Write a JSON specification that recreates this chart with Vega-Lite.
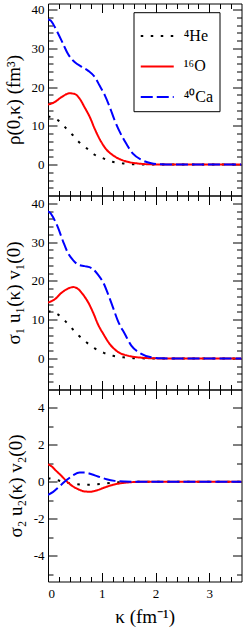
{
  "$schema": "https://vega.github.io/schema/vega-lite/v6.json",
  "padding": {"left": 4, "top": 2.5, "right": 2, "bottom": 0},
  "background": "white",
  "spacing": 0,
  "bounds": "flush",
  "config": {
    "font": "Liberation Serif",
    "view": {"stroke": null},
    "axis": {"labelFont": "Liberation Serif", "titleFont": "Liberation Serif", "labelFontSize": 13, "titleFontSize": 19, "titleFontWeight": "normal", "labelColor": "black", "titleColor": "black", "tickColor": "black", "domainColor": "black", "grid": false, "tickWidth": 1, "domainWidth": 1, "labelOverlap": false},
    "legend": {"labelFont": "Liberation Serif"}
  },
  "resolve": {"scale": {"color": "independent", "strokeDash": "independent"}, "legend": {"color": "independent", "strokeDash": "independent"}},
  "datasets": {
    "p1": [
      {"k": 0, "v": 12.4, "n": "⁴He"}, {"k": 0.1, "v": 12.1, "n": "⁴He"}, {"k": 0.19, "v": 11.4, "n": "⁴He"}, {"k": 0.32, "v": 9.6, "n": "⁴He"}, {"k": 0.45, "v": 7.75, "n": "⁴He"}, {"k": 0.57, "v": 5.9, "n": "⁴He"}, {"k": 0.72, "v": 4.2, "n": "⁴He"}, {"k": 0.86, "v": 2.6, "n": "⁴He"}, {"k": 1.03, "v": 1.6, "n": "⁴He"}, {"k": 1.2, "v": 0.7, "n": "⁴He"}, {"k": 1.38, "v": 0.3, "n": "⁴He"}, {"k": 1.57, "v": 0.1, "n": "⁴He"}, {"k": 1.8, "v": 0.02, "n": "⁴He"}, {"k": 2.2, "v": 0, "n": "⁴He"}, {"k": 3.6, "v": 0, "n": "⁴He"},
      {"k": 0, "v": 15.5, "n": "¹⁶O"}, {"k": 0.12, "v": 16.1, "n": "¹⁶O"}, {"k": 0.25, "v": 17.4, "n": "¹⁶O"}, {"k": 0.4, "v": 18.4, "n": "¹⁶O"}, {"k": 0.5, "v": 18.2, "n": "¹⁶O"}, {"k": 0.59, "v": 17.0, "n": "¹⁶O"}, {"k": 0.68, "v": 14.8, "n": "¹⁶O"}, {"k": 0.78, "v": 12.2, "n": "¹⁶O"}, {"k": 0.87, "v": 9.2, "n": "¹⁶O"}, {"k": 0.96, "v": 6.6, "n": "¹⁶O"}, {"k": 1.08, "v": 4.0, "n": "¹⁶O"}, {"k": 1.24, "v": 2.1, "n": "¹⁶O"}, {"k": 1.43, "v": 0.9, "n": "¹⁶O"}, {"k": 1.68, "v": 0.26, "n": "¹⁶O"}, {"k": 1.92, "v": 0.05, "n": "¹⁶O"}, {"k": 2.2, "v": 0, "n": "¹⁶O"}, {"k": 3.6, "v": 0, "n": "¹⁶O"},
      {"k": 0, "v": 37.5, "n": "⁴⁰Ca"}, {"k": 0.05, "v": 37.2, "n": "⁴⁰Ca"}, {"k": 0.1, "v": 36.2, "n": "⁴⁰Ca"}, {"k": 0.19, "v": 33.8, "n": "⁴⁰Ca"}, {"k": 0.28, "v": 31.2, "n": "⁴⁰Ca"}, {"k": 0.37, "v": 28.6, "n": "⁴⁰Ca"}, {"k": 0.5, "v": 26.4, "n": "⁴⁰Ca"}, {"k": 0.62, "v": 25.3, "n": "⁴⁰Ca"}, {"k": 0.75, "v": 24.2, "n": "⁴⁰Ca"}, {"k": 0.87, "v": 22.6, "n": "⁴⁰Ca"}, {"k": 0.96, "v": 20.4, "n": "⁴⁰Ca"}, {"k": 1.06, "v": 17.8, "n": "⁴⁰Ca"}, {"k": 1.15, "v": 14.8, "n": "⁴⁰Ca"}, {"k": 1.24, "v": 11.4, "n": "⁴⁰Ca"}, {"k": 1.34, "v": 8.3, "n": "⁴⁰Ca"}, {"k": 1.46, "v": 5.3, "n": "⁴⁰Ca"}, {"k": 1.58, "v": 2.8, "n": "⁴⁰Ca"}, {"k": 1.74, "v": 1.2, "n": "⁴⁰Ca"}, {"k": 1.92, "v": 0.35, "n": "⁴⁰Ca"}, {"k": 2.1, "v": 0.08, "n": "⁴⁰Ca"}, {"k": 2.4, "v": 0.01, "n": "⁴⁰Ca"}, {"k": 2.8, "v": 0, "n": "⁴⁰Ca"}, {"k": 3.6, "v": 0, "n": "⁴⁰Ca"}
    ],
    "p2": [
      {"k": 0, "v": 12.2, "n": "⁴He"}, {"k": 0.1, "v": 11.9, "n": "⁴He"}, {"k": 0.19, "v": 11.3, "n": "⁴He"}, {"k": 0.33, "v": 9.5, "n": "⁴He"}, {"k": 0.45, "v": 7.7, "n": "⁴He"}, {"k": 0.58, "v": 5.8, "n": "⁴He"}, {"k": 0.72, "v": 4.1, "n": "⁴He"}, {"k": 0.87, "v": 2.6, "n": "⁴He"}, {"k": 1.03, "v": 1.5, "n": "⁴He"}, {"k": 1.21, "v": 0.7, "n": "⁴He"}, {"k": 1.4, "v": 0.3, "n": "⁴He"}, {"k": 1.58, "v": 0.08, "n": "⁴He"}, {"k": 1.8, "v": 0.02, "n": "⁴He"}, {"k": 2.2, "v": 0, "n": "⁴He"}, {"k": 3.6, "v": 0, "n": "⁴He"},
      {"k": 0, "v": 14.4, "n": "¹⁶O"}, {"k": 0.12, "v": 15.2, "n": "¹⁶O"}, {"k": 0.25, "v": 16.9, "n": "¹⁶O"}, {"k": 0.37, "v": 18.0, "n": "¹⁶O"}, {"k": 0.47, "v": 18.4, "n": "¹⁶O"}, {"k": 0.56, "v": 17.9, "n": "¹⁶O"}, {"k": 0.65, "v": 16.5, "n": "¹⁶O"}, {"k": 0.75, "v": 14.4, "n": "¹⁶O"}, {"k": 0.84, "v": 11.8, "n": "¹⁶O"}, {"k": 0.93, "v": 8.8, "n": "¹⁶O"}, {"k": 1.03, "v": 6.3, "n": "¹⁶O"}, {"k": 1.15, "v": 3.7, "n": "¹⁶O"}, {"k": 1.3, "v": 1.7, "n": "¹⁶O"}, {"k": 1.49, "v": 0.7, "n": "¹⁶O"}, {"k": 1.74, "v": 0.2, "n": "¹⁶O"}, {"k": 1.99, "v": 0.03, "n": "¹⁶O"}, {"k": 2.3, "v": 0, "n": "¹⁶O"}, {"k": 3.6, "v": 0, "n": "¹⁶O"},
      {"k": 0, "v": 37.9, "n": "⁴⁰Ca"}, {"k": 0.05, "v": 37.4, "n": "⁴⁰Ca"}, {"k": 0.09, "v": 36.5, "n": "⁴⁰Ca"}, {"k": 0.19, "v": 33.6, "n": "⁴⁰Ca"}, {"k": 0.28, "v": 30.2, "n": "⁴⁰Ca"}, {"k": 0.37, "v": 27.2, "n": "⁴⁰Ca"}, {"k": 0.47, "v": 25.3, "n": "⁴⁰Ca"}, {"k": 0.56, "v": 24.2, "n": "⁴⁰Ca"}, {"k": 0.68, "v": 23.8, "n": "⁴⁰Ca"}, {"k": 0.81, "v": 23.3, "n": "⁴⁰Ca"}, {"k": 0.93, "v": 21.6, "n": "⁴⁰Ca"}, {"k": 1.03, "v": 19.5, "n": "⁴⁰Ca"}, {"k": 1.12, "v": 16.5, "n": "⁴⁰Ca"}, {"k": 1.21, "v": 13.1, "n": "⁴⁰Ca"}, {"k": 1.3, "v": 9.7, "n": "⁴⁰Ca"}, {"k": 1.43, "v": 6.3, "n": "⁴⁰Ca"}, {"k": 1.55, "v": 3.3, "n": "⁴⁰Ca"}, {"k": 1.71, "v": 1.4, "n": "⁴⁰Ca"}, {"k": 1.92, "v": 0.3, "n": "⁴⁰Ca"}, {"k": 2.11, "v": 0.05, "n": "⁴⁰Ca"}, {"k": 2.4, "v": 0, "n": "⁴⁰Ca"}, {"k": 3.6, "v": 0, "n": "⁴⁰Ca"}
    ],
    "p3": [
      {"k": 0, "v": 0.2, "n": "⁴He"}, {"k": 0.1, "v": 0.15, "n": "⁴He"}, {"k": 0.2, "v": 0.07, "n": "⁴He"}, {"k": 0.35, "v": -0.05, "n": "⁴He"}, {"k": 0.5, "v": -0.12, "n": "⁴He"}, {"k": 0.7, "v": -0.16, "n": "⁴He"}, {"k": 0.9, "v": -0.13, "n": "⁴He"}, {"k": 1.1, "v": -0.08, "n": "⁴He"}, {"k": 1.3, "v": -0.03, "n": "⁴He"}, {"k": 1.5, "v": -0.01, "n": "⁴He"}, {"k": 1.7, "v": 0, "n": "⁴He"}, {"k": 3.6, "v": 0, "n": "⁴He"},
      {"k": 0, "v": 0.95, "n": "¹⁶O"}, {"k": 0.06, "v": 0.85, "n": "¹⁶O"}, {"k": 0.15, "v": 0.6, "n": "¹⁶O"}, {"k": 0.25, "v": 0.32, "n": "¹⁶O"}, {"k": 0.34, "v": 0.05, "n": "¹⁶O"}, {"k": 0.43, "v": -0.18, "n": "¹⁶O"}, {"k": 0.56, "v": -0.4, "n": "¹⁶O"}, {"k": 0.68, "v": -0.52, "n": "¹⁶O"}, {"k": 0.78, "v": -0.54, "n": "¹⁶O"}, {"k": 0.9, "v": -0.47, "n": "¹⁶O"}, {"k": 1.05, "v": -0.31, "n": "¹⁶O"}, {"k": 1.21, "v": -0.16, "n": "¹⁶O"}, {"k": 1.37, "v": -0.07, "n": "¹⁶O"}, {"k": 1.55, "v": -0.02, "n": "¹⁶O"}, {"k": 1.75, "v": 0, "n": "¹⁶O"}, {"k": 3.6, "v": 0, "n": "¹⁶O"},
      {"k": 0, "v": -0.7, "n": "⁴⁰Ca"}, {"k": 0.09, "v": -0.56, "n": "⁴⁰Ca"}, {"k": 0.19, "v": -0.31, "n": "⁴⁰Ca"}, {"k": 0.28, "v": -0.07, "n": "⁴⁰Ca"}, {"k": 0.37, "v": 0.15, "n": "⁴⁰Ca"}, {"k": 0.47, "v": 0.36, "n": "⁴⁰Ca"}, {"k": 0.59, "v": 0.5, "n": "⁴⁰Ca"}, {"k": 0.68, "v": 0.5, "n": "⁴⁰Ca"}, {"k": 0.81, "v": 0.41, "n": "⁴⁰Ca"}, {"k": 0.93, "v": 0.29, "n": "⁴⁰Ca"}, {"k": 1.09, "v": 0.14, "n": "⁴⁰Ca"}, {"k": 1.24, "v": 0.05, "n": "⁴⁰Ca"}, {"k": 1.43, "v": 0.01, "n": "⁴⁰Ca"}, {"k": 1.6, "v": 0, "n": "⁴⁰Ca"}, {"k": 3.6, "v": 0, "n": "⁴⁰Ca"}
    ]
  },
  "vconcat": [
    {
      "width": 193.5, "height": 192,
      "data": {"name": "p1"},
      "layer": [
        {
          "mark": {"type": "line", "interpolate": "monotone", "strokeWidth": 2, "clip": true},
          "encoding": {
            "x": {"field": "k", "type": "quantitative", "scale": {"domain": [0, 3.6], "nice": false, "zero": false}, "axis": {"orient": "bottom", "values": [0, 1, 2, 3], "tickSize": -9, "labels": false, "title": null, "domain": true}},
            "y": {"field": "v", "type": "quantitative", "scale": {"domain": [-8, 41.6], "nice": false, "zero": false}, "axis": {"orient": "left", "values": [0, 10, 20, 30, 40], "tickSize": -9, "labelPadding": 13, "title": "ρ(0,κ)  (fm³)", "titlePadding": 8, "domain": true}},
            "color": {"field": "n", "type": "nominal", "scale": {"domain": ["⁴He", "¹⁶O", "⁴⁰Ca"], "range": ["#000000", "#ff0000", "#0000ff"]}, "legend": {"orient": "none", "legendX": 85.5, "legendY": 8.7, "title": null, "symbolType": "stroke", "symbolSize": 1089, "symbolStrokeWidth": 2, "labelFontSize": 16, "labelColor": "black", "strokeColor": "black", "fillColor": "white", "padding": 6.25, "labelOffset": 9, "rowPadding": 4.5}},
            "strokeDash": {"field": "n", "type": "nominal", "scale": {"domain": ["⁴He", "¹⁶O", "⁴⁰Ca"], "range": [[2.5, 7.5], [1, 0], [12, 4]]}, "legend": {"orient": "none", "legendX": 85.5, "legendY": 8.7, "title": null, "symbolType": "stroke", "symbolSize": 1089, "symbolStrokeWidth": 2, "labelFontSize": 16, "labelColor": "black", "strokeColor": "black", "fillColor": "white", "padding": 6.25, "labelOffset": 9, "rowPadding": 4.5}}
          }
        },
        {
          "mark": {"type": "point", "opacity": 0},
          "encoding": {
            "x": {"field": "k", "type": "quantitative", "axis": {"orient": "top", "values": [0, 1, 2, 3], "tickSize": -9, "labels": false, "title": null, "domain": true}},
            "y": {"field": "v", "type": "quantitative", "axis": {"orient": "right", "values": [0, 10, 20, 30, 40], "tickSize": -9, "labels": false, "title": null, "domain": true}}
          }
        },
        {
          "mark": {"type": "point", "opacity": 0},
          "encoding": {
            "x": {"field": "k", "type": "quantitative", "axis": {"orient": "bottom", "values": [0.2, 0.4, 0.6, 0.8, 1.2, 1.4, 1.6, 1.8, 2.2, 2.4, 2.6, 2.8, 3.2, 3.4], "tickSize": -5, "labels": false, "title": null, "domain": false}},
            "y": {"field": "v", "type": "quantitative", "axis": {"orient": "left", "values": [-6, -4, -2, 2, 4, 6, 8, 12, 14, 16, 18, 22, 24, 26, 28, 32, 34, 36, 38], "tickSize": -5, "labels": false, "title": null, "domain": false}}
          }
        },
        {
          "mark": {"type": "point", "opacity": 0},
          "encoding": {
            "x": {"field": "k", "type": "quantitative", "axis": {"orient": "top", "values": [0.2, 0.4, 0.6, 0.8, 1.2, 1.4, 1.6, 1.8, 2.2, 2.4, 2.6, 2.8, 3.2, 3.4], "tickSize": -5, "labels": false, "title": null, "domain": false}},
            "y": {"field": "v", "type": "quantitative", "axis": {"orient": "right", "values": [-6, -4, -2, 2, 4, 6, 8, 12, 14, 16, 18, 22, 24, 26, 28, 32, 34, 36, 38], "tickSize": -5, "labels": false, "title": null, "domain": false}}
          }
        }
      ],
      "resolve": {"axis": {"x": "independent", "y": "independent"}}
    },
    {
      "width": 193.5, "height": 194,
      "data": {"name": "p2"},
      "layer": [
        {
          "mark": {"type": "line", "interpolate": "monotone", "strokeWidth": 2, "clip": true},
          "encoding": {
            "x": {"field": "k", "type": "quantitative", "scale": {"domain": [0, 3.6], "nice": false, "zero": false}, "axis": {"orient": "bottom", "values": [0, 1, 2, 3], "tickSize": -9, "labels": false, "title": null, "domain": true}},
            "y": {"field": "v", "type": "quantitative", "scale": {"domain": [-8, 42], "nice": false, "zero": false}, "axis": {"orient": "left", "values": [0, 10, 20, 30, 40], "tickSize": -9, "labelPadding": 13, "title": "σ₁ u₁(κ) v₁(0)", "titlePadding": 8, "domain": true}},
            "color": {"field": "n", "type": "nominal", "scale": {"domain": ["⁴He", "¹⁶O", "⁴⁰Ca"], "range": ["#000000", "#ff0000", "#0000ff"]}, "legend": null},
            "strokeDash": {"field": "n", "type": "nominal", "scale": {"domain": ["⁴He", "¹⁶O", "⁴⁰Ca"], "range": [[2.5, 7.5], [1, 0], [12, 4]]}, "legend": null}
          }
        },
        {
          "mark": {"type": "point", "opacity": 0},
          "encoding": {
            "x": {"field": "k", "type": "quantitative", "axis": {"orient": "top", "values": [0, 1, 2, 3], "tickSize": -9, "labels": false, "title": null, "domain": true}},
            "y": {"field": "v", "type": "quantitative", "axis": {"orient": "right", "values": [0, 10, 20, 30, 40], "tickSize": -9, "labels": false, "title": null, "domain": true}}
          }
        },
        {
          "mark": {"type": "point", "opacity": 0},
          "encoding": {
            "x": {"field": "k", "type": "quantitative", "axis": {"orient": "bottom", "values": [0.2, 0.4, 0.6, 0.8, 1.2, 1.4, 1.6, 1.8, 2.2, 2.4, 2.6, 2.8, 3.2, 3.4], "tickSize": -5, "labels": false, "title": null, "domain": false}},
            "y": {"field": "v", "type": "quantitative", "axis": {"orient": "left", "values": [-6, -4, -2, 2, 4, 6, 8, 12, 14, 16, 18, 22, 24, 26, 28, 32, 34, 36, 38], "tickSize": -5, "labels": false, "title": null, "domain": false}}
          }
        },
        {
          "mark": {"type": "point", "opacity": 0},
          "encoding": {
            "x": {"field": "k", "type": "quantitative", "axis": {"orient": "top", "values": [0.2, 0.4, 0.6, 0.8, 1.2, 1.4, 1.6, 1.8, 2.2, 2.4, 2.6, 2.8, 3.2, 3.4], "tickSize": -5, "labels": false, "title": null, "domain": false}},
            "y": {"field": "v", "type": "quantitative", "axis": {"orient": "right", "values": [-6, -4, -2, 2, 4, 6, 8, 12, 14, 16, 18, 22, 24, 26, 28, 32, 34, 36, 38], "tickSize": -5, "labels": false, "title": null, "domain": false}}
          }
        }
      ],
      "resolve": {"axis": {"x": "independent", "y": "independent"}}
    },
    {
      "width": 193.5, "height": 192,
      "data": {"name": "p3"},
      "layer": [
        {
          "mark": {"type": "line", "interpolate": "monotone", "strokeWidth": 2, "clip": true},
          "encoding": {
            "x": {"field": "k", "type": "quantitative", "scale": {"domain": [0, 3.6], "nice": false, "zero": false}, "axis": {"orient": "bottom", "values": [0, 1, 2, 3], "tickSize": -9, "labels": true, "labelPadding": 15, "title": "κ (fm⁻¹)", "titlePadding": 7, "domain": true}},
            "y": {"field": "v", "type": "quantitative", "scale": {"domain": [-5.4, 5], "nice": false, "zero": false}, "axis": {"orient": "left", "values": [-4, -2, 0, 2, 4], "tickSize": -9, "labelPadding": 13, "labelExpr": "replace(datum.label, '−', '-')", "title": "σ₂ u₂(κ) v₂(0)", "titlePadding": 8, "domain": true}},
            "color": {"field": "n", "type": "nominal", "scale": {"domain": ["⁴He", "¹⁶O", "⁴⁰Ca"], "range": ["#000000", "#ff0000", "#0000ff"]}, "legend": null},
            "strokeDash": {"field": "n", "type": "nominal", "scale": {"domain": ["⁴He", "¹⁶O", "⁴⁰Ca"], "range": [[2.5, 7.5], [1, 0], [12, 4]]}, "legend": null}
          }
        },
        {
          "mark": {"type": "point", "opacity": 0},
          "encoding": {
            "x": {"field": "k", "type": "quantitative", "axis": {"orient": "top", "values": [0, 1, 2, 3], "tickSize": -9, "labels": false, "title": null, "domain": true}},
            "y": {"field": "v", "type": "quantitative", "axis": {"orient": "right", "values": [-4, -2, 0, 2, 4], "tickSize": -9, "labels": false, "title": null, "domain": true}}
          }
        },
        {
          "mark": {"type": "point", "opacity": 0},
          "encoding": {
            "x": {"field": "k", "type": "quantitative", "axis": {"orient": "bottom", "values": [0.2, 0.4, 0.6, 0.8, 1.2, 1.4, 1.6, 1.8, 2.2, 2.4, 2.6, 2.8, 3.2, 3.4], "tickSize": -5, "labels": false, "title": null, "domain": false}},
            "y": {"field": "v", "type": "quantitative", "axis": {"orient": "left", "values": [-5, -3, -1, 1, 3], "tickSize": -5, "labels": false, "title": null, "domain": false}}
          }
        },
        {
          "mark": {"type": "point", "opacity": 0},
          "encoding": {
            "x": {"field": "k", "type": "quantitative", "axis": {"orient": "top", "values": [0.2, 0.4, 0.6, 0.8, 1.2, 1.4, 1.6, 1.8, 2.2, 2.4, 2.6, 2.8, 3.2, 3.4], "tickSize": -5, "labels": false, "title": null, "domain": false}},
            "y": {"field": "v", "type": "quantitative", "axis": {"orient": "right", "values": [-5, -3, -1, 1, 3], "tickSize": -5, "labels": false, "title": null, "domain": false}}
          }
        }
      ],
      "resolve": {"axis": {"x": "independent", "y": "independent"}}
    }
  ]
}
